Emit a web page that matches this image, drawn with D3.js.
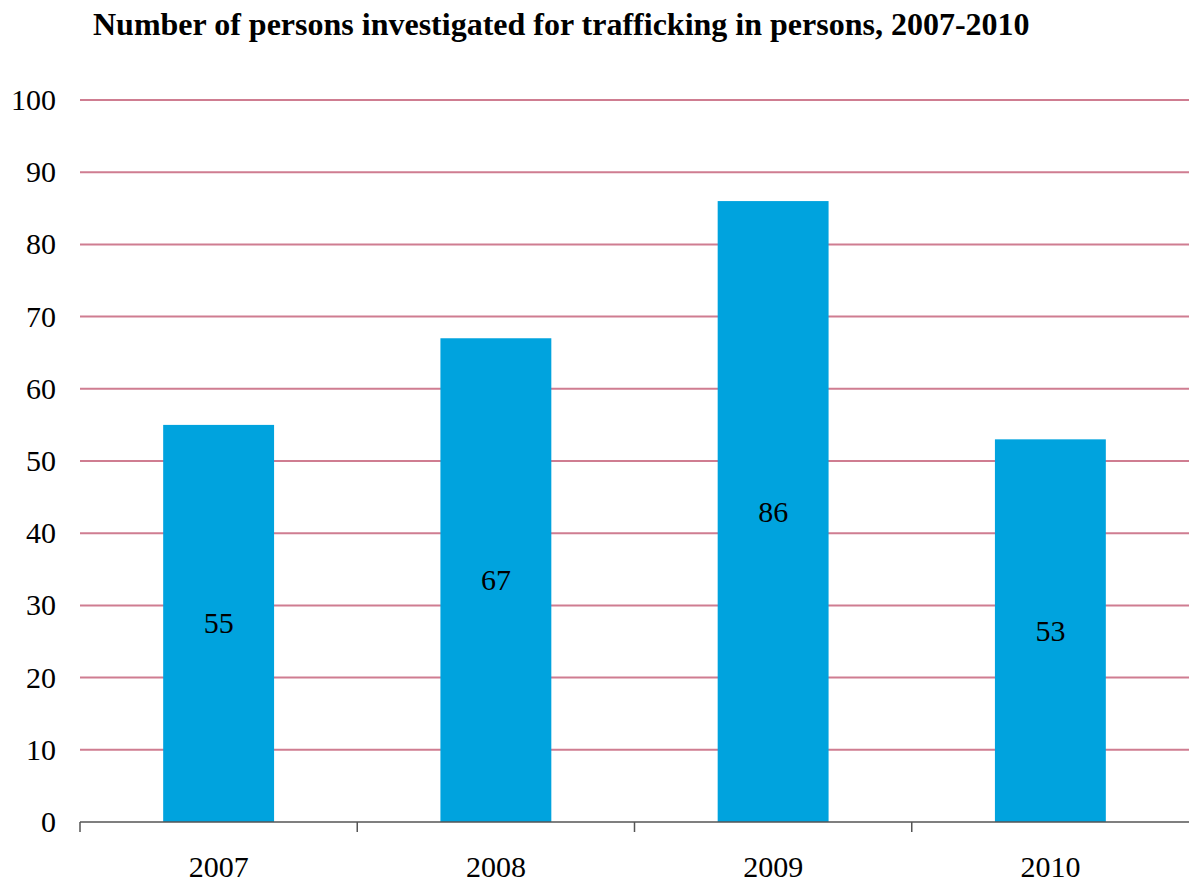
<!DOCTYPE html>
<html lang="en">
<head>
  <meta charset="UTF-8" />
  <title>Persons investigated for trafficking</title>
  <script src="https://d3js.org/d3.v7.min.js"></script>
  <style>
    body { margin: 0; background: white; }
    svg { display: block; font-family: 'Liberation Serif', 'Times New Roman', serif; }
  </style>
</head>
<body>
  <script>
    const years = ['2007', '2008', '2009', '2010'];
    const persons = [55, 67, 86, 53];
    const yTicks = [0, 10, 20, 30, 40, 50, 60, 70, 80, 90, 100];

    const w = 1189;
    const h = 884;
    const plotLeft = 80, plotRight = 1189, plotTop = 100, plotBottom = 822;

    const svg = d3.select('body')
      .append('svg')
      .attr('width', w)
      .attr('height', h);

    const x = d3.scaleBand()
      .domain(years)
      .range([plotLeft, plotRight])
      .paddingInner(0.6)
      .paddingOuter(0.3);

    const y = d3.scaleLinear()
      .domain([0, 100])
      .range([plotBottom, plotTop]);

    // gridlines
    svg.append('g')
      .selectAll('line')
      .data(yTicks.filter(d => d > 0))
      .enter()
      .append('line')
      .attr('x1', plotLeft)
      .attr('x2', plotRight)
      .attr('y1', d => y(d))
      .attr('y2', d => y(d))
      .attr('stroke', '#cf7d91')
      .attr('stroke-width', 2);

    // y labels
    svg.append('g')
      .selectAll('text')
      .data(yTicks)
      .enter()
      .append('text')
      .attr('x', 56)
      .attr('y', d => y(d) + 10)
      .attr('text-anchor', 'end')
      .attr('font-size', '30px')
      .text(d => d);

    svg.selectAll('rect.bar')
      .data(persons)
      .enter()
      .append('rect')
      .attr('class', 'bar')
      .attr('x', (d, i) => x(years[i]))
      .attr('y', d => y(d))
      .attr('width', x.bandwidth())
      .attr('height', d => plotBottom - y(d))
      .attr('fill', '#00a3de');

    svg.selectAll('text.val')
      .data(persons)
      .enter()
      .append('text')
      .attr('class', 'val')
      .attr('x', (d, i) => x(years[i]) + x.bandwidth() / 2)
      .attr('y', d => (y(d) + plotBottom) / 2 + 10)
      .attr('text-anchor', 'middle')
      .attr('font-size', '30px')
      .text(d => d);

    // x axis
    const axis = svg.append('g');
    axis.append('line')
      .attr('x1', plotLeft).attr('x2', plotRight)
      .attr('y1', plotBottom).attr('y2', plotBottom)
      .attr('stroke', '#555').attr('stroke-width', 1.5);
    axis.selectAll('line.tick')
      .data(years)
      .enter()
      .append('line')
      .attr('class', 'tick')
      .attr('x1', (d, i) => plotLeft + i * (plotRight - plotLeft) / years.length)
      .attr('x2', (d, i) => plotLeft + i * (plotRight - plotLeft) / years.length)
      .attr('y1', plotBottom).attr('y2', plotBottom + 10)
      .attr('stroke', '#555').attr('stroke-width', 1.5);
    axis.selectAll('text')
      .data(years)
      .enter()
      .append('text')
      .attr('x', d => x(d) + x.bandwidth() / 2)
      .attr('y', 877)
      .attr('text-anchor', 'middle')
      .attr('font-size', '30px')
      .text(d => d);

    svg.append('text')
      .attr('x', 93)
      .attr('y', 35)
      .attr('font-size', '32px')
      .attr('font-weight', 'bold')
      .text('Number of persons investigated for trafficking in persons, 2007-2010');
  </script>
</body>
</html>
